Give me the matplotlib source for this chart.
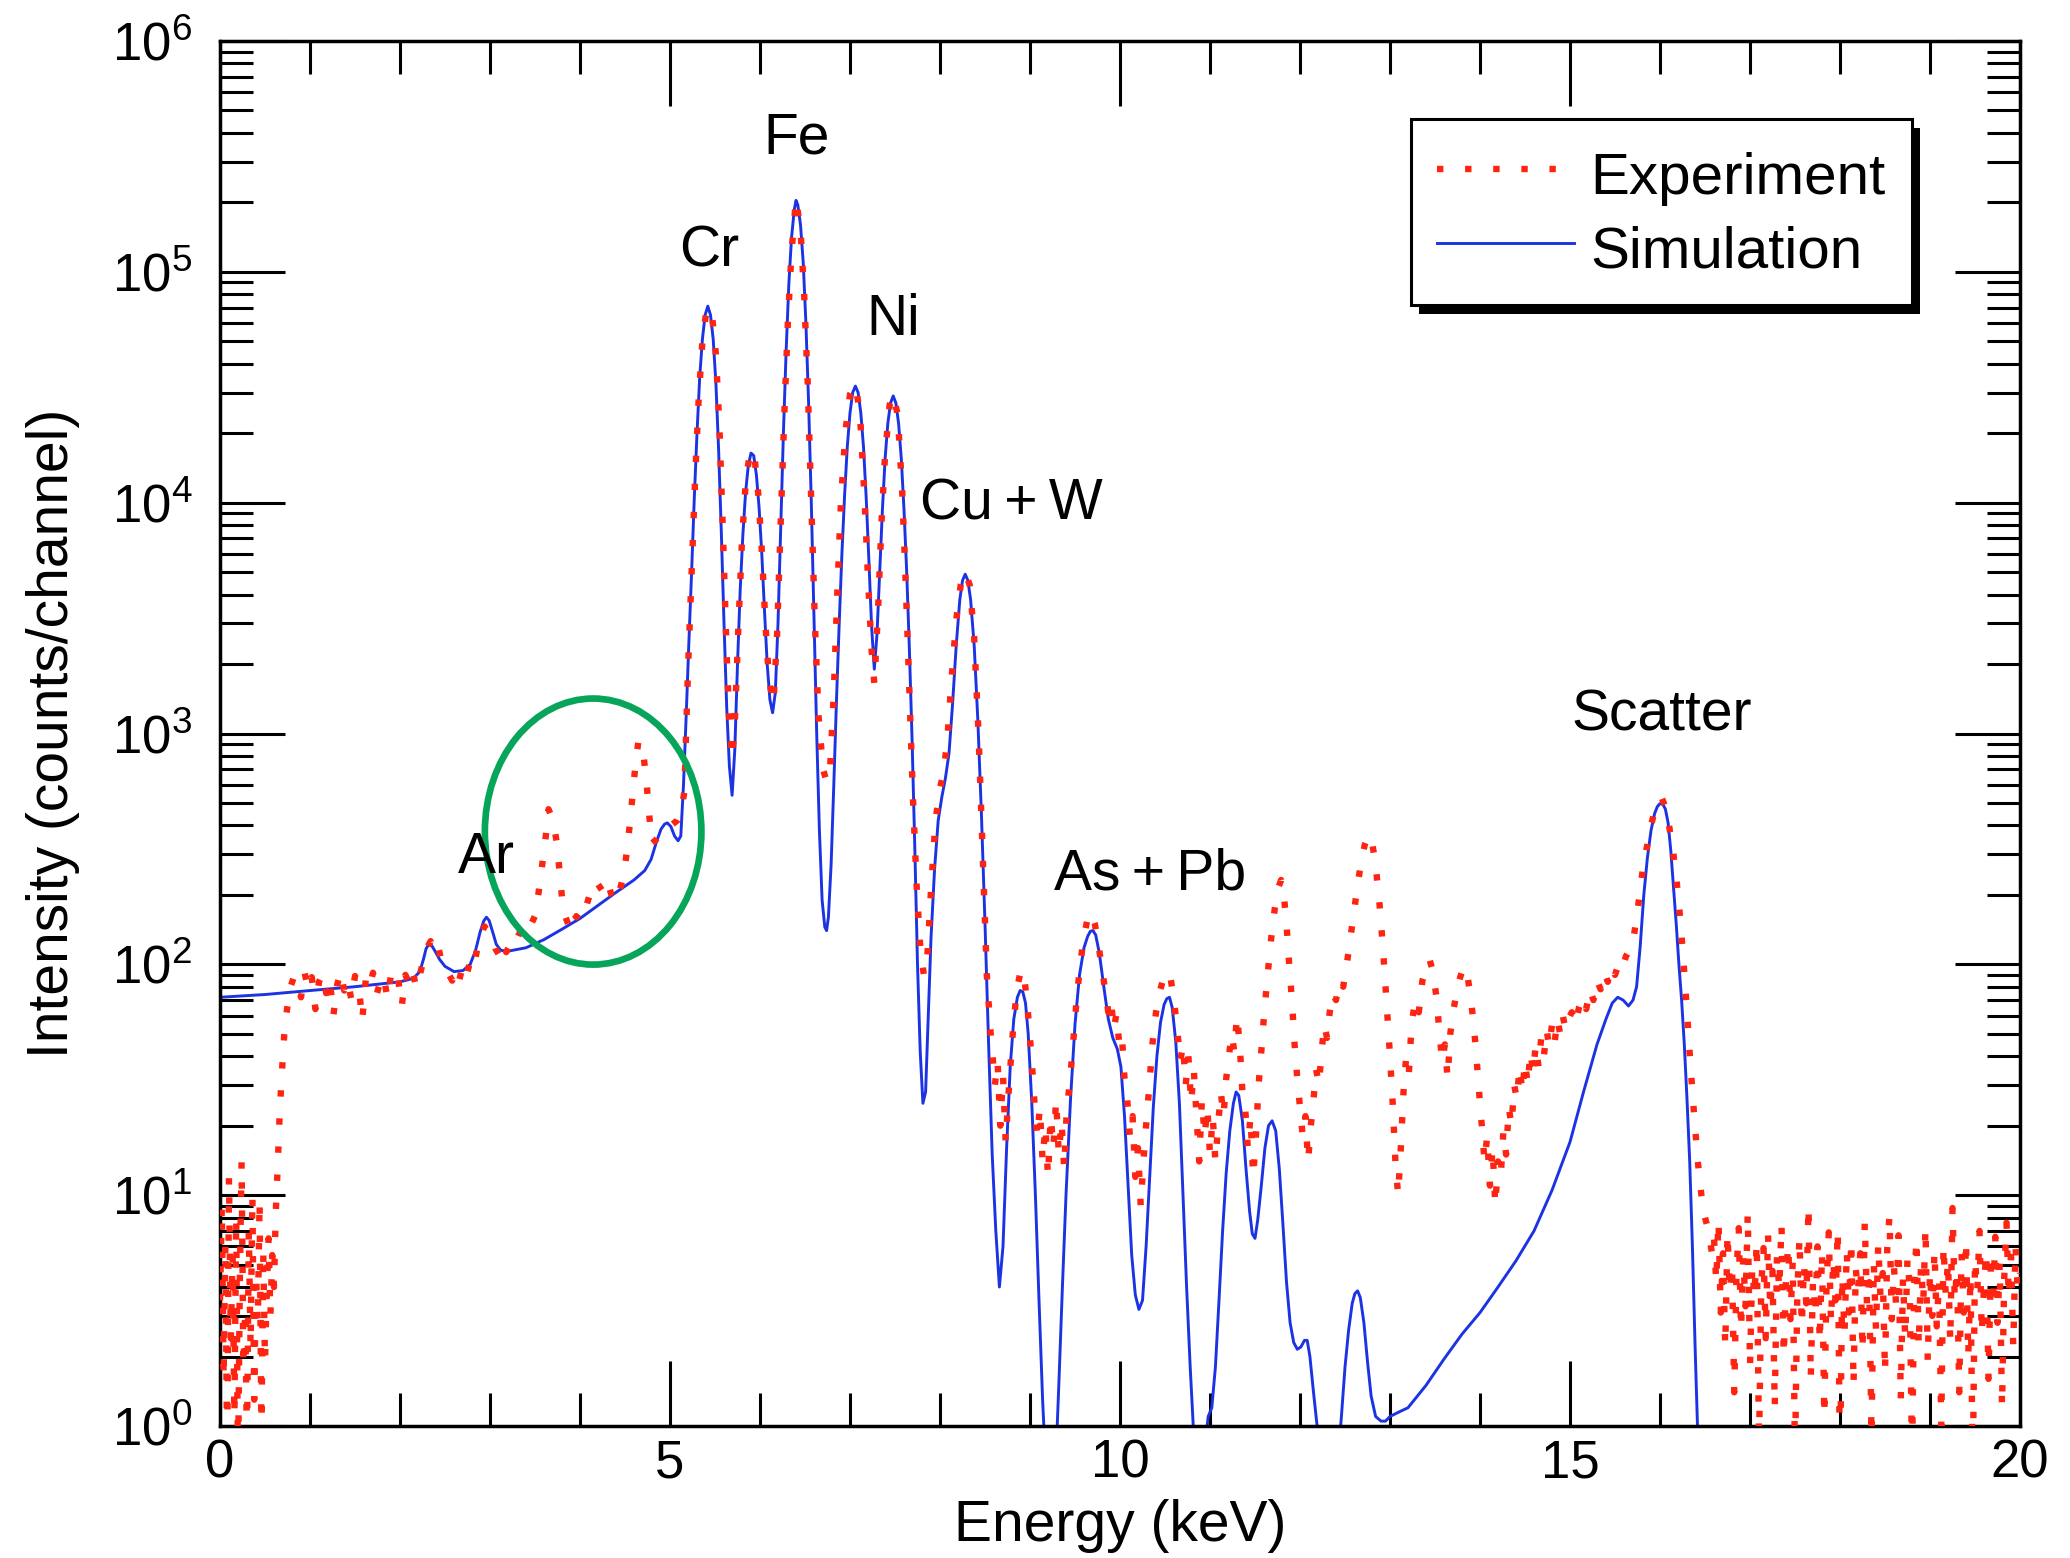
import numpy as np
import matplotlib
matplotlib.use("Agg")
import matplotlib.pyplot as plt
from matplotlib.patches import Ellipse, Rectangle
from matplotlib.transforms import IdentityTransform
from matplotlib.ticker import MultipleLocator, LogLocator, NullFormatter

# ---------------- data ----------------
# Simulation (smooth curve): energy (keV) and counts/channel
sim_energy = [0.0, 0.5, 1.0, 1.5, 2.0, 2.15, 2.22, 2.26, 2.29, 2.32,
              2.35, 2.39, 2.44, 2.5, 2.6, 2.7, 2.78, 2.84, 2.89, 2.93,
              2.96, 2.99, 3.03, 3.07, 3.12, 3.2, 3.4, 3.6, 3.8, 4.0,
              4.2, 4.4, 4.6, 4.72, 4.79, 4.85, 4.9, 4.94, 4.97, 5.01,
              5.05, 5.09, 5.12, 5.15, 5.18, 5.21, 5.24, 5.27, 5.30, 5.33,
              5.36, 5.39, 5.42, 5.45, 5.48, 5.51, 5.54, 5.57, 5.60, 5.63,
              5.66, 5.69, 5.72, 5.75, 5.78, 5.81, 5.84, 5.87, 5.90, 5.93,
              5.96, 5.99, 6.02, 6.05, 6.08, 6.11, 6.14, 6.17, 6.20, 6.23,
              6.26, 6.29, 6.32, 6.35, 6.38, 6.40, 6.42, 6.45, 6.48, 6.51,
              6.54, 6.57, 6.60, 6.63, 6.66, 6.69, 6.72, 6.74, 6.76, 6.79,
              6.82, 6.85, 6.88, 6.91, 6.94, 6.97, 7.00, 7.03, 7.06, 7.09,
              7.12, 7.15, 7.18, 7.21, 7.24, 7.27, 7.30, 7.33, 7.36, 7.39,
              7.42, 7.45, 7.48, 7.51, 7.54, 7.57, 7.60, 7.63, 7.66, 7.69,
              7.72, 7.75, 7.78, 7.81, 7.84, 7.87, 7.90, 7.94, 7.98, 8.02,
              8.06, 8.10, 8.14, 8.18, 8.22, 8.25, 8.28, 8.31, 8.34, 8.38,
              8.42, 8.46, 8.50, 8.54, 8.58, 8.62, 8.66, 8.70, 8.74, 8.78,
              8.82, 8.86, 8.89, 8.92, 8.95, 8.98, 9.02, 9.06, 9.10, 9.14,
              9.18, 9.22, 9.28, 9.32, 9.36, 9.40, 9.45, 9.50, 9.55, 9.60,
              9.64, 9.67, 9.70, 9.73, 9.77, 9.82, 9.87, 9.92, 9.97, 10.01,
              10.05, 10.09, 10.13, 10.17, 10.21, 10.25, 10.29, 10.33, 10.37, 10.41,
              10.45, 10.49, 10.52, 10.55, 10.58, 10.62, 10.66, 10.70, 10.74, 10.78,
              10.82, 10.88, 10.94, 10.98, 11.02, 11.06, 11.10, 11.14, 11.18, 11.22,
              11.26, 11.29, 11.32, 11.36, 11.40, 11.44, 11.47, 11.50, 11.53, 11.57,
              11.61, 11.65, 11.69, 11.73, 11.77, 11.81, 11.85, 11.89, 11.93, 11.97,
              12.01, 12.05, 12.08, 12.11, 12.15, 12.19, 12.24, 12.33, 12.42, 12.46,
              12.50, 12.54, 12.58, 12.61, 12.64, 12.67, 12.71, 12.75, 12.79, 12.84,
              12.9, 12.95, 13.0, 13.1, 13.2, 13.4, 13.6, 13.8, 14.0, 14.2,
              14.4, 14.6, 14.8, 15.0, 15.15, 15.3, 15.4, 15.47, 15.53, 15.59,
              15.65, 15.70, 15.74, 15.78, 15.82, 15.86, 15.90, 15.94, 15.97, 16.00,
              16.03, 16.06, 16.09, 16.12, 16.15, 16.18, 16.21, 16.24, 16.27, 16.30,
              16.33, 16.36, 16.39, 16.42, 16.45]
sim_counts = [72, 74, 77, 80, 84, 87, 93, 105, 117, 122,
              121, 114, 105, 98, 93, 94, 100, 115, 138, 154,
              160, 155, 138, 122, 115, 114, 118, 128, 142, 158,
              180, 205, 232, 255, 285, 340, 385, 405, 410, 395,
              360, 343, 360, 600, 1200, 2500, 5000, 10500, 20000, 35000,
              51000, 65000, 71000, 65000, 51000, 33000, 17000, 7500, 3000, 1300,
              720, 540, 850, 2000, 4200, 7300, 11100, 14500, 16400, 16000,
              13200, 9500, 6000, 3400, 2000, 1400, 1230, 1500, 3000, 7600,
              20000, 45000, 88000, 140000, 185000, 204000, 195000, 160000, 110000, 60000,
              27000, 10000, 3200, 1000, 380, 190, 145, 140, 160, 270,
              600, 1400, 3000, 6000, 10800, 17500, 24500, 30000, 32000, 30000,
              24500, 17400, 10500, 5600, 2900, 1900, 2700, 5000, 9300, 15500,
              22000, 27000, 29000, 27000, 22000, 15500, 9300, 5000, 2300, 930,
              320, 100, 42, 25, 28, 60, 130, 260, 420, 530,
              640, 820, 1350, 2400, 3800, 4600, 4900, 4600, 3800, 2400,
              1150, 450, 150, 45, 15, 7, 4, 6, 16, 36,
              58, 72, 77, 76, 68, 50, 25, 10, 3.5, 1.3,
              0.6, 0.3, 0.6, 1.5, 4, 10, 26, 55, 90, 118,
              132, 139, 140, 134, 112, 80, 58, 48, 43, 36,
              22, 11, 5.5, 3.7, 3.2, 3.5, 6, 12, 24, 40,
              56, 67, 71, 72, 65, 46, 25, 10, 4, 1.8,
              0.9, 0.5, 0.8, 1.1, 1.2, 1.8, 3.5, 7, 12.5, 19,
              25, 28, 27, 21, 13, 8.5, 6.8, 6.5, 7.8, 11,
              16, 20, 21, 19, 13, 7.5, 4.2, 2.8, 2.3, 2.15,
              2.2, 2.35, 2.35, 2.0, 1.4, 1.0, 0.6, 0.4, 0.7, 1.1,
              1.8, 2.6, 3.4, 3.75, 3.85, 3.6, 2.8, 1.9, 1.35, 1.1,
              1.05, 1.05, 1.1, 1.15, 1.2, 1.5, 1.95, 2.5, 3.1, 4.0,
              5.2, 7.0, 10.5, 17, 28, 45, 58, 68, 72, 70,
              66, 70, 80, 120, 200, 290, 380, 450, 482, 497,
              495, 470, 410, 310, 215, 150, 100, 70, 45, 26,
              14, 6, 2.2, 0.9, 0.4]

# Experiment (noisy measured spectrum), split into energy ranges
exp_energy_low = [0.00, 0.02, 0.04, 0.06, 0.08, 0.10, 0.12, 0.14, 0.16, 0.18, 0.20, 0.22, 0.24, 0.26,
                  0.28, 0.30, 0.32, 0.34, 0.36, 0.38, 0.40, 0.42, 0.44, 0.46, 0.48, 0.50, 0.52, 0.54,
                  0.56, 0.58, 0.60, 0.62, 0.64, 0.66, 0.68, 0.70, 0.72, 0.75, 0.78, 0.82,
                  0.86, 0.90, 0.94, 0.98, 1.02, 1.06, 1.10, 1.14, 1.18, 1.22, 1.26, 1.30, 1.34, 1.38,
                  1.42, 1.46, 1.50, 1.54, 1.58, 1.62, 1.66, 1.70, 1.74, 1.78, 1.82, 1.86, 1.90, 1.94,
                  1.98, 2.02, 2.06, 2.10, 2.14, 2.18]
exp_counts_low = [3.5, 9.0, 1.6, 6.2, 0.7, 12.0, 2.4, 5.5, 1.1, 8.0, 0.6, 4.2, 14.0, 1.8,
                  3.2, 0.8, 7.0, 2.2, 10.0, 1.3, 4.6, 2.8, 9.5, 0.9, 5.8, 1.9, 3.9, 6.5,
                  3.0, 5.5, 4.0, 8.5, 13, 21, 30, 41, 54, 66, 79, 88,
                  86, 72, 92, 78, 88, 64, 84, 91, 75, 86, 60, 81, 93, 77,
                  85, 70, 89, 82, 57, 86, 79, 92, 74, 84, 89, 71, 90, 81,
                  86, 66, 90, 83, 94, 79]

exp_energy_ar = [2.22, 2.26, 2.30, 2.34, 2.38, 2.42, 2.46, 2.50, 2.54, 2.58, 2.62, 2.66, 2.70, 2.74,
                 2.78, 2.82, 2.86, 2.90, 2.94, 2.98, 3.02, 3.06, 3.10, 3.14, 3.18, 3.22, 3.26, 3.30,
                 3.34, 3.38, 3.42, 3.46, 3.50, 3.54, 3.58, 3.62, 3.65, 3.68, 3.71, 3.74, 3.77, 3.80,
                 3.84, 3.88, 3.92, 3.96, 4.00, 4.05, 4.10, 4.15, 4.20, 4.25, 4.30, 4.35, 4.40, 4.45,
                 4.49, 4.53, 4.56, 4.59, 4.62, 4.65, 4.68, 4.71, 4.74, 4.77, 4.80, 4.84, 4.88, 4.93,
                 4.98, 5.03, 5.08, 5.12, 5.16]
exp_counts_ar = [90, 104, 118, 126, 114, 121, 104, 97, 91, 85, 95, 86, 99, 90,
                 103, 97, 118, 136, 146, 138, 130, 117, 110, 124, 113, 121, 117, 129,
                 140, 133, 145, 150, 162, 205, 270, 360, 470, 440, 400, 340, 260, 195,
                 160, 145, 168, 160, 175, 168, 196, 228, 222, 208, 230, 200, 186, 215,
                 250, 330, 430, 570, 760, 930, 870, 780, 610, 440, 335, 345, 360, 375,
                 395, 405, 420, 450, 560]

exp_energy_main = [5.20, 5.24, 5.28, 5.32, 5.36, 5.40, 5.43, 5.47, 5.51, 5.55, 5.59, 5.63, 5.66, 5.69,
                   5.72, 5.76, 5.80, 5.84, 5.88, 5.91, 5.94, 5.98, 6.02, 6.06, 6.10, 6.15, 6.19, 6.23,
                   6.27, 6.31, 6.35, 6.40, 6.45, 6.49, 6.53, 6.57, 6.61, 6.65, 6.70, 6.74, 6.78, 6.82,
                   6.86, 6.90, 6.95, 7.00, 7.06, 7.11, 7.16, 7.20, 7.24, 7.27, 7.31, 7.35, 7.39, 7.44,
                   7.48, 7.53, 7.58, 7.62, 7.66, 7.70, 7.74, 7.78, 7.82, 7.86, 7.90, 7.95, 8.00, 8.04,
                   8.08, 8.13, 8.18, 8.23, 8.28, 8.33, 8.38, 8.43, 8.48, 8.52, 8.56]
exp_counts_main = [1900, 5000, 13000, 29000, 50000, 66000, 70000, 63000, 44000, 21000, 7000, 2200, 1100, 780,
                   1100, 2900, 6900, 12000, 15800, 16800, 15600, 11000, 6200, 3000, 1700, 1350, 2700, 8200,
                   24000, 61000, 122000, 207000, 152000, 81000, 33000, 10000, 3000, 1200, 700, 620, 720, 1500,
                   4200, 10200, 20500, 29500, 32500, 24500, 10800, 4700, 2300, 1650, 3300, 8200, 16200, 26500,
                   29500, 24000, 11200, 4400, 1500, 520, 220, 120, 90, 110, 210, 420, 580, 680,
                   930, 1750, 3100, 4400, 5000, 4400, 2600, 960, 260, 90, 52]

exp_energy_trace = [8.58, 8.61, 8.64, 8.67, 8.70, 8.73, 8.76, 8.79, 8.82, 8.86, 8.90, 8.94, 8.98, 9.02,
                    9.05, 9.08, 9.11, 9.14, 9.17, 9.20, 9.23, 9.26, 9.29, 9.32, 9.35, 9.38, 9.41, 9.44,
                    9.48, 9.52, 9.56, 9.60, 9.64, 9.68, 9.72, 9.76, 9.80, 9.84, 9.87, 9.90, 9.93, 9.96,
                    9.99, 10.02, 10.05, 10.08, 10.11, 10.14, 10.17, 10.20, 10.23, 10.26, 10.29, 10.32, 10.36, 10.40,
                    10.44, 10.48, 10.52, 10.56, 10.60, 10.64, 10.67, 10.70, 10.73, 10.76, 10.79, 10.82, 10.85, 10.88,
                    10.91, 10.94, 10.97, 11.00, 11.03, 11.06, 11.09, 11.12, 11.15, 11.18, 11.21, 11.24, 11.27, 11.30,
                    11.33, 11.36, 11.39, 11.42, 11.45, 11.48, 11.51, 11.54, 11.57, 11.60, 11.64, 11.68, 11.72, 11.76,
                    11.79, 11.82, 11.85, 11.88, 11.91, 11.94, 11.97, 12.00, 12.03, 12.06, 12.09, 12.12, 12.15, 12.18,
                    12.21, 12.24, 12.27, 12.30, 12.33, 12.36, 12.40, 12.44, 12.48, 12.52, 12.56, 12.60, 12.64, 12.68,
                    12.72, 12.76, 12.80, 12.84, 12.88, 12.92, 12.96, 13.00, 13.03, 13.06, 13.09, 13.12, 13.15, 13.18,
                    13.21, 13.24, 13.28, 13.32, 13.36, 13.40, 13.44, 13.48, 13.52, 13.55, 13.58, 13.61, 13.64, 13.67,
                    13.70, 13.74, 13.78, 13.82, 13.86, 13.90, 13.93, 13.96, 13.99, 14.02, 14.05, 14.08, 14.11, 14.14,
                    14.17, 14.20, 14.23, 14.26, 14.29, 14.32, 14.35, 14.38, 14.41, 14.44, 14.47, 14.50, 14.53, 14.56,
                    14.59, 14.62, 14.65, 14.68, 14.71, 14.74, 14.77, 14.80, 14.83, 14.86, 14.89, 14.92, 14.95, 14.98,
                    15.02, 15.06, 15.10, 15.14, 15.18, 15.22, 15.26, 15.30, 15.34, 15.38, 15.42, 15.46, 15.50, 15.54,
                    15.58, 15.62, 15.66, 15.70, 15.74, 15.78, 15.82, 15.86, 15.90, 15.94, 15.98, 16.02, 16.06, 16.10,
                    16.14, 16.18, 16.22, 16.26, 16.30, 16.34, 16.38, 16.42, 16.46, 16.50, 16.54, 16.58]
exp_counts_trace = [42, 30, 38, 20, 33, 17, 27, 40, 58, 80, 95, 86, 60, 38,
                    25, 18, 24, 14, 20, 12, 22, 16, 26, 15, 21, 13, 24, 30,
                    46, 72, 102, 132, 158, 168, 150, 122, 96, 75, 62, 70, 52, 61,
                    46, 50, 32, 26, 18, 22, 12, 16, 9, 14, 20, 28, 45, 62,
                    76, 86, 93, 88, 70, 50, 38, 45, 30, 40, 25, 35, 22, 14,
                    26, 18, 24, 15, 22, 14, 20, 28, 22, 32, 40, 50, 42, 60,
                    45, 28, 24, 16, 22, 12, 18, 30, 42, 60, 90, 130, 175, 215,
                    232, 200, 150, 100, 70, 45, 32, 24, 18, 22, 14, 20, 26, 35,
                    30, 42, 55, 48, 62, 75, 70, 85, 80, 100, 130, 170, 220, 280,
                    330, 365, 340, 270, 190, 120, 70, 40, 25, 14, 10, 16, 28, 40,
                    34, 55, 70, 62, 85, 95, 105, 92, 70, 50, 38, 45, 32, 50,
                    62, 75, 88, 98, 90, 70, 55, 40, 28, 20, 14, 18, 11, 16,
                    9, 14, 12, 19, 15, 24, 20, 30, 26, 36, 28, 38, 30, 42,
                    34, 45, 36, 48, 40, 52, 44, 55, 46, 58, 50, 60, 52, 58,
                    62, 55, 65, 72, 64, 78, 70, 85, 78, 92, 84, 98, 90, 100,
                    95, 108, 115, 125, 160, 210, 280, 330, 400, 460, 510, 525, 480, 400,
                    320, 240, 165, 105, 62, 36, 22, 14, 10, 8, 7, 5.5]

exp_energy_tail = [16.6, 16.625, 16.65, 16.675, 16.7, 16.725, 16.75, 16.775, 16.8, 16.825, 16.85, 16.875,
                   16.9, 16.925, 16.95, 16.975, 17.0, 17.025, 17.05, 17.075, 17.1, 17.125, 17.15, 17.175,
                   17.2, 17.225, 17.25, 17.275, 17.3, 17.325, 17.35, 17.375, 17.4, 17.425, 17.45, 17.475,
                   17.5, 17.525, 17.55, 17.575, 17.6, 17.625, 17.65, 17.675, 17.7, 17.725, 17.75, 17.775,
                   17.8, 17.825, 17.85, 17.875, 17.9, 17.925, 17.95, 17.975, 18.0, 18.025, 18.05, 18.075,
                   18.1, 18.125, 18.15, 18.175, 18.2, 18.225, 18.25, 18.275, 18.3, 18.325, 18.35, 18.375,
                   18.4, 18.425, 18.45, 18.475, 18.5, 18.525, 18.55, 18.575, 18.6, 18.625, 18.65, 18.675,
                   18.7, 18.725, 18.75, 18.775, 18.8, 18.825, 18.85, 18.875, 18.9, 18.925, 18.95, 18.975,
                   19.0, 19.025, 19.05, 19.075, 19.1, 19.125, 19.15, 19.175, 19.2, 19.225, 19.25, 19.275,
                   19.3, 19.325, 19.35, 19.375, 19.4, 19.425, 19.45, 19.475, 19.5, 19.525, 19.55, 19.575,
                   19.6, 19.625, 19.65, 19.675, 19.7, 19.725, 19.75, 19.775, 19.8, 19.825, 19.85, 19.875,
                   19.9, 19.925, 19.95, 19.975, 20.0]
exp_counts_tail = [6.5, 4.2, 7.8, 3.1, 5.6, 2.2, 6.9, 3.8, 5.0, 1.4,
                   4.6, 7.2, 2.6, 5.4, 3.3, 8.4, 1.8, 4.9, 3.6, 6.3,
                   0.8, 4.1, 5.9, 2.4, 6.8, 3.2, 4.7, 1.2, 5.5, 3.9,
                   7.5, 2.0, 4.4, 6.1, 2.9, 5.2, 0.7, 3.7, 6.6, 2.7,
                   5.0, 3.4, 9.0, 1.6, 4.3, 3.0, 6.0, 2.3, 5.7, 1.1,
                   4.0, 6.9, 2.8, 5.3, 3.5, 7.1, 0.6, 4.5, 2.5, 5.8,
                   3.1, 6.4, 1.5, 4.8, 3.8, 5.6, 2.1, 7.7, 3.3, 4.2,
                   0.9, 5.1, 2.6, 6.2, 3.6, 4.6, 1.7, 5.9, 8.2, 2.9,
                   4.9, 3.2, 6.7, 1.3, 4.4, 2.4, 5.4, 3.9, 0.7, 4.1,
                   6.5, 2.2, 5.0, 3.4, 7.3, 1.9, 4.7, 3.0, 5.8, 2.7,
                   4.3, 1.0, 6.1, 3.7, 5.2, 2.3, 8.8, 3.5, 4.8, 1.4,
                   5.6, 3.1, 6.4, 2.0, 4.5, 0.6, 5.3, 3.8, 7.0, 2.5,
                   4.0, 5.7, 1.6, 4.9, 3.3, 6.6, 2.8, 5.1, 1.2, 4.4,
                   7.6, 3.6, 5.4, 2.2, 6.0, 3.9, 4.6]

# Peak labels: (text, energy keV, counts)
peak_labels = ["Fe", "Cr", "Ni", "Cu\u2009+\u2009W", "Ar", "As\u2009+\u2009Pb", "Scatter"]
peak_label_energy = [6.41, 5.44, 7.48, 8.79, 2.96, 10.33, 16.02]
peak_label_counts = [380000, 123000, 61700, 9800, 288, 245, 1200]

series_names = ["Experiment", "Simulation"]

# ---------------- plotting ----------------
plt.rcParams['font.family'] = ['Liberation Sans', 'DejaVu Sans']
plt.rcParams['mathtext.fontset'] = 'custom'
plt.rcParams['mathtext.rm'] = 'Liberation Sans'
plt.rcParams['mathtext.it'] = 'Liberation Sans:italic'
plt.rcParams['mathtext.bf'] = 'Liberation Sans:bold'

RED = '#ff2412'
BLUE = '#1c33e3'
GREEN = '#07a55a'

fig = plt.figure(figsize=(20.7, 15.58), dpi=100)
ax = fig.add_axes([0.10628, 0.08472, 0.86957, 0.88896])

exp_e = np.array(exp_energy_low + exp_energy_ar + exp_energy_main + exp_energy_trace + exp_energy_tail)
exp_c = np.array(exp_counts_low + exp_counts_ar + exp_counts_main + exp_counts_trace + exp_counts_tail)
assert len(exp_e) == len(exp_c), (len(exp_e), len(exp_c))
assert len(sim_energy) == len(sim_counts), (len(sim_energy), len(sim_counts))

l_sim, = ax.plot(sim_energy, sim_counts, color=BLUE, lw=2.1, zorder=2, label=series_names[1])
l_exp, = ax.plot(exp_e, exp_c, color=RED, lw=4.6, linestyle=(0, (1, 3.4)), dash_capstyle='butt',
                 zorder=3, label=series_names[0])

ax.set_yscale('log')
ax.set_xlim(0, 20)
ax.set_ylim(1, 1e6)

ax.xaxis.set_major_locator(MultipleLocator(5))
ax.xaxis.set_minor_locator(MultipleLocator(1))
ax.yaxis.set_major_locator(LogLocator(base=10, numticks=12))
ax.yaxis.set_minor_locator(LogLocator(base=10, subs=(2, 3, 4, 5, 6, 7, 8, 9), numticks=100))
ax.yaxis.set_minor_formatter(NullFormatter())

ax.tick_params(which='both', direction='in', top=True, right=True, color='black', width=2.2)
ax.tick_params(which='major', length=47)
ax.tick_params(which='minor', length=24)
ax.tick_params(axis='x', which='major', pad=9, labelsize=38)
ax.tick_params(axis='y', which='major', pad=20, labelsize=38)
for s in ax.spines.values():
    s.set_linewidth(2.5)

ax.set_xlabel("Energy (keV)", fontsize=41)
ax.set_ylabel("Intensity (counts/channel)", fontsize=41)
ax.xaxis.set_label_coords(0.5, -0.053)
ax.yaxis.set_label_coords(-0.078, 0.5)

for txt, xe, yc in zip(peak_labels, peak_label_energy, peak_label_counts):
    ax.text(xe, yc, txt, fontsize=41, ha='center', va='center', zorder=6)

ell = Ellipse((0.2073, 0.4292), 0.1203, 0.1921, transform=ax.transAxes, fill=False,
              edgecolor=GREEN, linewidth=4.8, zorder=4)
ax.add_patch(ell)

leg = ax.legend(handles=[l_exp, l_sim], loc='upper right', bbox_to_anchor=(0.940, 0.944),
                borderaxespad=0, fontsize=42, frameon=True, fancybox=False, framealpha=1,
                edgecolor='black', handlelength=2.35, handleheight=1.15, handletextpad=0.28,
                borderpad=0.45, labelspacing=0.22)
leg.get_frame().set_linewidth(2.2)
leg.set_zorder(7)

fig.canvas.draw()
bb = leg.get_frame().get_window_extent(fig.canvas.get_renderer())
shadow = Rectangle((bb.x0 + 8, bb.y0 - 9), bb.width, bb.height, transform=IdentityTransform(),
                   facecolor='black', edgecolor='none', zorder=6.9)
ax.add_artist(shadow)

fig.savefig("out.png", dpi=100)
